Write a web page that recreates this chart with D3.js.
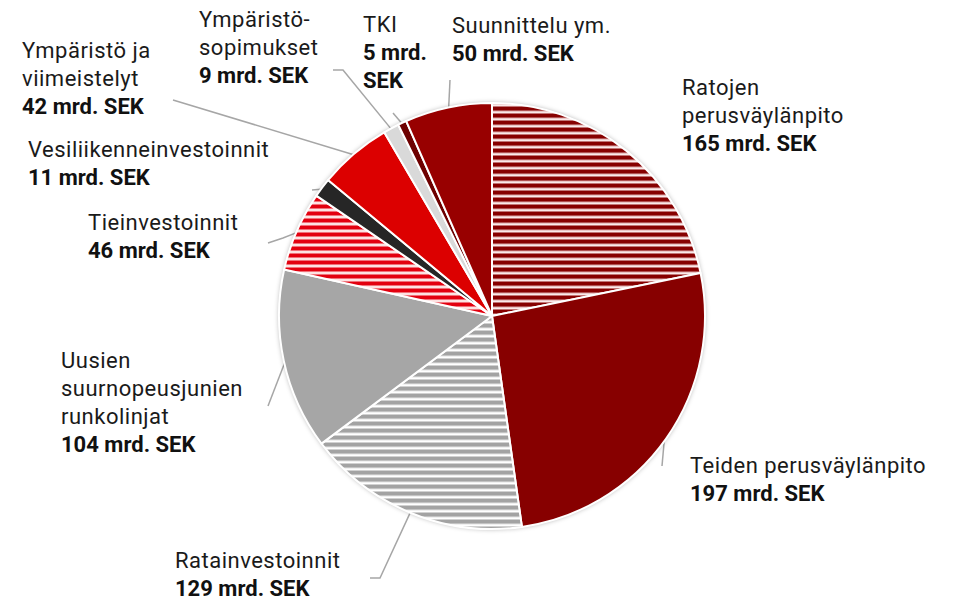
<!DOCTYPE html>
<html>
<head>
<meta charset="utf-8">
<script src="https://cdn.jsdelivr.net/npm/d3@7/dist/d3.min.js"></script>
<style>
  html, body { margin: 0; padding: 0; background: #ffffff; }
  svg { display: block; }
  text { font-family: "Roboto", "Noto Sans", sans-serif; }
</style>
</head>
<body>
<svg id="chart" width="955" height="603"></svg>
<script>
// ---- data ----
const categories = [
  "Ratojen perusväylänpito",
  "Teiden perusväylänpito",
  "Ratainvestoinnit",
  "Uusien suurnopeusjunien runkolinjat",
  "Tieinvestoinnit",
  "Vesiliikenneinvestoinnit",
  "Ympäristö ja viimeistelyt",
  "Ympäristösopimukset",
  "TKI",
  "Suunnittelu ym."
];
const values = [165, 197, 129, 104, 46, 11, 42, 9, 5, 50];
const unit = "mrd. SEK";
// label text lines (name part), as shown in the chart
const labelLines = [
  ["Ratojen", "perusväylänpito"],
  ["Teiden perusväylänpito"],
  ["Ratainvestoinnit"],
  ["Uusien", "suurnopeusjunien", "runkolinjat"],
  ["Tieinvestoinnit"],
  ["Vesiliikenneinvestoinnit"],
  ["Ympäristö ja", "viimeistelyt"],
  ["Ympäristö-", "sopimukset"],
  ["TKI"],
  ["Suunnittelu ym."]
];
// value lines (TKI wraps)
const valueLines = values.map((v, i) => i === 8 ? [v + " mrd.", "SEK"] : [v + " " + unit]);

// ---- layout / style ----
const W = 955, H = 603;
const cx = 492, cy = 316, R = 213;
const fills = [
  "url(#stripeDark)", "#870000", "url(#stripeGray)", "#a6a6a6", "url(#stripeRed)",
  "#262626", "#dc0000", "#d9d9d9", "#6e0000", "#980000"
];
// label anchor: x, first baseline y
const labelPos = [
  [682, 95], [690, 473], [175, 568], [61, 368], [88, 230],
  [28, 157], [22, 58], [199, 27], [363, 32], [452, 33]
];
const lineH = 28;
// leader outer points (null = no leader); inner end is computed from the slice angle
const leaderOuter = [
  null,
  [[662, 466]],
  [[370, 578], [380, 578]],
  [[268, 406]],
  [[268, 243], [283, 238]],
  [[312, 190]],
  [[173, 100]],
  [[333, 70], [343, 70]],
  [[393, 113]],
  [[450, 80]]
];

const svg = d3.select("#chart");
const defs = svg.append("defs");

function stripes(id, color, bg, period, band) {
  const p = defs.append("pattern").attr("id", id)
    .attr("patternUnits", "userSpaceOnUse")
    .attr("width", 20).attr("height", period)
    .attr("y", 0.5);
  p.append("rect").attr("width", 20).attr("height", period).attr("fill", bg);
  p.append("rect").attr("width", 20).attr("height", band).attr("fill", color);
}
stripes("stripeDark", "#870000", "#fbeaea", 7, 4.3);
stripes("stripeGray", "#a3a3a3", "#ffffff", 7, 4.3);
stripes("stripeRed", "#e3000f", "#fde2e2", 7, 4.0);

const shadow = defs.append("filter").attr("id", "shadow")
  .attr("x", "-10%").attr("y", "-10%").attr("width", "120%").attr("height", "120%");
shadow.append("feDropShadow").attr("dx", 0).attr("dy", 0)
  .attr("stdDeviation", 2.5).attr("flood-color", "#000").attr("flood-opacity", 0.35);

const pie = d3.pie().sort(null).value(d => d).startAngle(0).endAngle(2 * Math.PI);
const arcs = pie(values);
const arc = d3.arc().innerRadius(0).outerRadius(R);

// leader lines
const leaders = svg.append("g");
arcs.forEach((a, i) => {
  if (!leaderOuter[i]) return;
  const mid = (a.startAngle + a.endAngle) / 2;
  const inner = [cx + (R - 2) * Math.sin(mid), cy - (R - 2) * Math.cos(mid)];
  const pts = leaderOuter[i].concat([inner]);
  leaders.append("path")
    .attr("d", d3.line()(pts))
    .attr("fill", "none")
    .attr("stroke", "#a6a6a6")
    .attr("stroke-width", 1.5);
});

// pie
const g = svg.append("g").attr("transform", `translate(${cx},${cy})`);
g.append("circle").attr("r", R).attr("fill", "#fff").attr("filter", "url(#shadow)");
const pg = svg.append("g");
pg.selectAll("path").data(arcs).enter().append("path")
  .attr("transform", `translate(${cx},${cy})`)
  .attr("d", arc)
  .attr("fill", (d, i) => fills[i])
  .attr("stroke", "#ffffff")
  .attr("stroke-width", 2)
  .attr("stroke-linejoin", "round");

// labels
const lg = svg.append("g");
categories.forEach((c, i) => {
  const [x, y] = labelPos[i];
  const t = lg.append("text").attr("x", x).attr("y", y)
    .attr("font-size", 22).attr("fill", "#1a1a1a");
  let k = 0;
  labelLines[i].forEach(l => {
    t.append("tspan").attr("x", x).attr("y", y + lineH * k++).text(l)
      .attr("font-weight", 400).attr("letter-spacing", 0.5);
  });
  valueLines[i].forEach(l => {
    t.append("tspan").attr("x", x).attr("y", y + lineH * k++).text(l)
      .attr("font-weight", 700).attr("fill", "#111").attr("letter-spacing", 0);
  });
});
</script>
</body>
</html>
